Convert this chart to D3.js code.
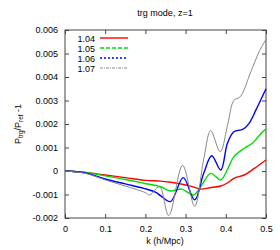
<!DOCTYPE html>
<html>
<head>
<title>trg mode</title>
<style>
  body { margin: 0; background: #fff; }
  text { font-family: "Liberation Sans", Arial, sans-serif; fill: #000; }
</style>
</head>
<body>
<script src="https://d3js.org/d3.v7.min.js"></script>
<script>

var width = 280, height = 250;
var margin = {top: 30, right: 14, bottom: 32, left: 65};

// data
var names = ['1.04', '1.05', '1.06', '1.07'];
var colors = ['#ff0000', '#00dd00', '#0000ff', '#888888'];

var k104 = [0, 0.05, 0.1, 0.15, 0.2, 0.2375, 0.2625, 0.2875, 0.31, 0.3375, 0.36, 0.3875, 0.405, 0.42, 0.446, 0.47, 0.5];
var v104 = [0, -0.00006, -0.00017, -0.00028, -0.0004, -0.00043, -0.00048, -0.00055, -0.00063, -0.00077, -0.00071, -0.00064, -0.0005, -0.00031, -0.00017, 0.0001, 0.00047];

var k105 = [0, 0.05, 0.1, 0.15, 0.196, 0.2375, 0.2625, 0.29, 0.32, 0.34, 0.3625, 0.3875, 0.405, 0.42, 0.446, 0.4675, 0.4875, 0.5];
var v105 = [0, -0.00006, -0.00021, -0.00036, -0.00052, -0.00067, -0.00085, -0.00077, -0.00102, -0.0006, -0.0001, -0.00038, 0.0001, 0.00061, 0.00097, 0.0012, 0.0016, 0.0018];

var k106 = [0, 0.05, 0.1, 0.15, 0.196, 0.225, 0.2375, 0.2625, 0.294, 0.3225, 0.345, 0.365, 0.3875, 0.404, 0.42, 0.442, 0.458, 0.475, 0.5];
var v106 = [0, -0.00008, -0.00034, -0.00055, -0.00074, -0.0009, -0.00105, -0.0013, -0.00028, -0.00123, -0.0001, 0.00065, 0.00004, 0.00118, 0.00167, 0.00177, 0.00203, 0.0026, 0.0035];

var k107 = [0, 0.05, 0.1, 0.15, 0.2, 0.211, 0.235, 0.258, 0.2925, 0.3225, 0.345, 0.3625, 0.386, 0.405, 0.42, 0.436, 0.4625, 0.483, 0.5];
var v107 = [0, -0.0001, -0.00038, -0.00064, -0.00092, -0.00102, -0.00067, -0.0019, 0.00024, -0.0015, 0.0005, 0.00172, 0.00082, 0.002, 0.003, 0.00316, 0.00423, 0.00508, 0.0056];

var xTicks = [0, 0.1, 0.2, 0.3, 0.4, 0.5];
var yTicks = [-0.002, -0.001, 0, 0.001, 0.002, 0.003, 0.004, 0.005, 0.006];

var series = [
  {name: names[0], color: colors[0], dash: null, w: 1.4, k: k104, v: v104},
  {name: names[1], color: colors[1], dash: '4,2', w: 1.4, k: k105, v: v105},
  {name: names[2], color: colors[2], dash: '2,2', w: 1.4, k: k106, v: v106},
  {name: names[3], color: colors[3], dash: '3,1,1,1', w: 1, k: k107, v: v107}
];

var x = d3.scaleLinear().domain([0, 0.5]).range([margin.left, width - margin.right]);
var y = d3.scaleLinear().domain([-0.002, 0.006]).range([height - margin.bottom, margin.top]);

var svg = d3.select('body').append('svg')
    .attr('width', width)
    .attr('height', height);

var fmt = function (d) { return d === 0 ? '0' : String(+d.toFixed(3)); };

// axes, ticks inward on all four sides (gnuplot style)
var axisColor = '#444';
var gx = svg.append('g').attr('transform', 'translate(0,' + y.range()[0] + ')')
    .call(d3.axisBottom(x).tickValues(xTicks).tickSizeInner(-4).tickSizeOuter(0).tickPadding(8).tickFormat(fmt));
var gy = svg.append('g').attr('transform', 'translate(' + margin.left + ',0)')
    .call(d3.axisLeft(y).tickValues(yTicks).tickSizeInner(-4).tickSizeOuter(0).tickPadding(7).tickFormat(fmt));
var gt = svg.append('g').attr('transform', 'translate(0,' + margin.top + ')')
    .call(d3.axisTop(x).tickValues(xTicks).tickSizeInner(-4).tickSizeOuter(0).tickFormat(''));
var gr = svg.append('g').attr('transform', 'translate(' + (width - margin.right) + ',0)')
    .call(d3.axisRight(y).tickValues(yTicks).tickSizeInner(-4).tickSizeOuter(0).tickFormat(''));

[gx, gy, gt, gr].forEach(function (g) {
  g.selectAll('.domain').remove();
  g.selectAll('line').attr('stroke', axisColor);
  g.selectAll('text').style('font-size', '9px').attr('fill', '#000');
});

svg.append('rect')
    .attr('x', margin.left).attr('y', margin.top)
    .attr('width', width - margin.left - margin.right)
    .attr('height', height - margin.top - margin.bottom)
    .attr('fill', 'none').attr('stroke', axisColor).attr('stroke-width', 1);

// lines: the dashes are so fine in the plot that they read as solid
var line = d3.line()
    .x(function (d) { return x(d[0]); })
    .y(function (d) { return y(d[1]); })
    .curve(d3.curveCatmullRom.alpha(0.5));

var plot = svg.append('g');
series.forEach(function (s) {
  var pts = s.k.map(function (k, i) { return [k, s.v[i]]; });
  plot.append('path')
      .attr('d', line(pts))
      .attr('fill', 'none')
      .attr('stroke', s.color)
      .attr('stroke-width', s.w);
});

// legend
var leg = svg.append('g');
series.forEach(function (s, i) {
  var yy = 38 + i * 10;
  leg.append('text')
      .attr('x', 95).attr('y', yy + 3.5)
      .attr('text-anchor', 'end')
      .style('font-size', '9px')
      .text(s.name);
  leg.append('line')
      .attr('x1', 100).attr('x2', 128)
      .attr('y1', yy).attr('y2', yy)
      .attr('stroke', s.color)
      .attr('stroke-width', s.w)
      .attr('stroke-dasharray', s.dash);
});

// title and labels
svg.append('text')
    .attr('x', 165).attr('y', 16)
    .attr('text-anchor', 'middle')
    .style('font-size', '9px')
    .text('trg mode, z=1');

svg.append('text')
    .attr('x', 165).attr('y', 244)
    .attr('text-anchor', 'middle')
    .style('font-size', '9px')
    .text('k (h/Mpc)');

var yl = svg.append('text')
    .attr('transform', 'translate(21,124) rotate(-90)')
    .attr('text-anchor', 'middle')
    .style('font-size', '9px');
yl.append('tspan').text('P');
yl.append('tspan').attr('dy', 2).style('font-size', '6.5px').text('trg');
yl.append('tspan').attr('dy', -2).text('/P');
yl.append('tspan').attr('dy', 2).style('font-size', '6.5px').text('ref');
yl.append('tspan').attr('dy', -2).text('  -1');

</script>
</body>
</html>
